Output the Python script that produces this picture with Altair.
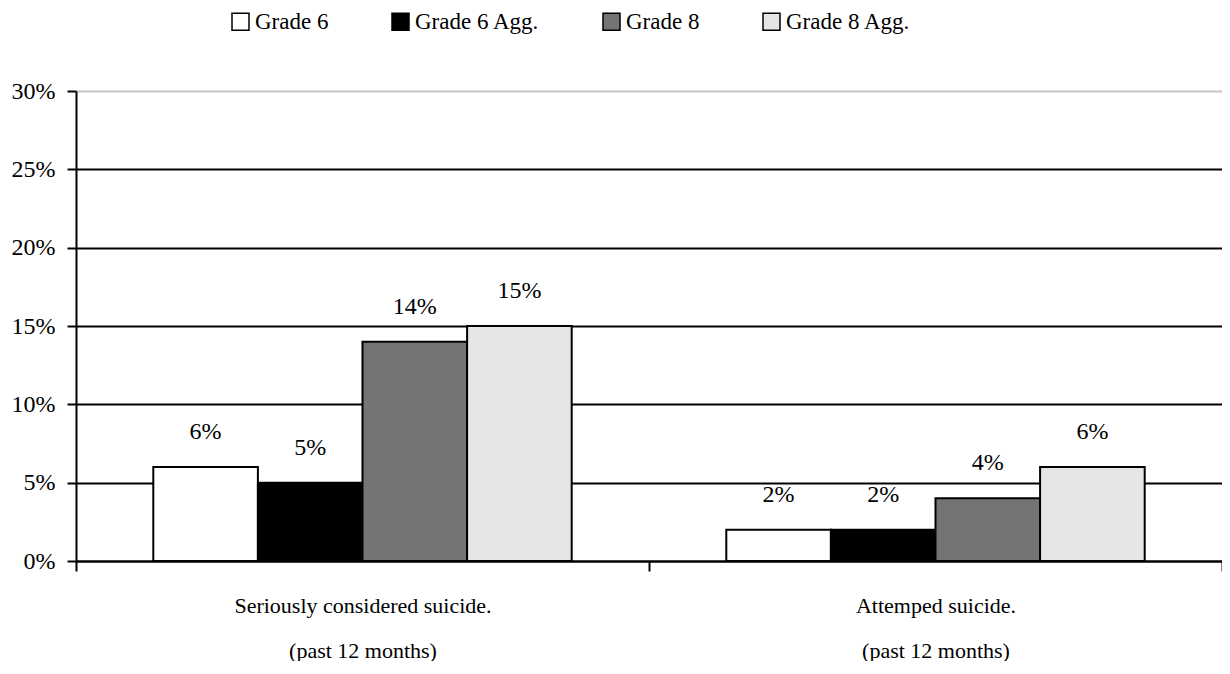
import altair as alt
import pandas as pd

categories = ["Seriously considered suicide.|(past 12 months)", "Attemped suicide.|(past 12 months)"]
series = ["Grade 6", "Grade 6 Agg.", "Grade 8", "Grade 8 Agg."]
values = {
    "Grade 6": [6, 2],
    "Grade 6 Agg.": [5, 2],
    "Grade 8": [14, 4],
    "Grade 8 Agg.": [15, 6],
}
fills = ["#ffffff", "#000000", "#747474", "#e6e6e6"]
y_ticks = [0, 0.05, 0.10, 0.15, 0.20, 0.25, 0.30]

rows = []
for s in series:
    for c, v in zip(categories, values[s]):
        rows.append({"category": c, "series": s, "value": v / 100})
df = pd.DataFrame(rows)

FONT = "Liberation Serif"

x_enc = alt.X(
    "category:N",
    sort=categories,
    title=None,
    scale=alt.Scale(paddingInner=0, paddingOuter=0),
    axis=alt.Axis(
        labelAngle=0,
        labelExpr="split(datum.label, '|')",
        labelLineHeight=45,
        labelFontSize=22,
        labelFont=FONT,
        labelColor="black",
        labelBaseline="top",
        labelPadding=24,
        labelLimit=800,
        tickBand="extent",
        tickSize=10,
        tickWidth=2,
        tickColor="black",
        domainColor="black",
        domainWidth=2,
        grid=False,
    ),
)
xoff = alt.XOffset("series:N", sort=series, scale=alt.Scale(paddingInner=0, paddingOuter=0.739))
y_enc = alt.Y(
    "value:Q",
    title=None,
    scale=alt.Scale(domain=[0, 0.3], nice=False),
    axis=alt.Axis(
        values=y_ticks,
        format=".0%",
        labelFontSize=24,
        labelFont=FONT,
        labelColor="black",
        labelPadding=12,
        tickSize=9,
        tickWidth=2,
        tickColor="black",
        domainColor="black",
        domainWidth=2,
        grid=True,
        gridWidth=2,
        gridColor={"condition": {"test": "datum.value >= 0.29", "value": "#c4c4c4"}, "value": "black"},
    ),
)

bars = alt.Chart(df).mark_bar(stroke="black", strokeWidth=2).encode(
    x=x_enc,
    xOffset=xoff,
    y=y_enc,
    fill=alt.Fill(
        "series:N",
        sort=series,
        scale=alt.Scale(domain=series, range=fills),
        legend=alt.Legend(
            title=None,
            orient="none",
            legendX=153,
            legendY=-81,
            direction="horizontal",
            columns=4,
            columnPadding=60,
            symbolType="square",
            symbolSize=289,
            symbolStrokeColor="black",
            symbolStrokeWidth=1.5,
            labelFont=FONT,
            labelFontSize=23,
            labelColor="black",
            labelOffset=3,
            padding=0,
            labelLimit=400,
        ),
    ),
)

labels = alt.Chart(df).mark_text(
    font=FONT, fontSize=24, color="black", baseline="middle", dy=-35
).encode(
    x=alt.X("category:N", sort=categories),
    xOffset=alt.XOffset("series:N", sort=series),
    y="value:Q",
    text=alt.Text("value:Q", format=".0%"),
)

chart = (
    alt.layer(bars, labels)
    .properties(
        width=1146,
        height=470,
        autosize=alt.AutoSizeParams(type="none"),
        padding={"left": 68, "top": 83, "right": 0, "bottom": 100},
        background="white",
    )
    .configure_view(stroke=None)
)

chart.save("out.html", embed_options={"renderer": "svg", "actions": False})
